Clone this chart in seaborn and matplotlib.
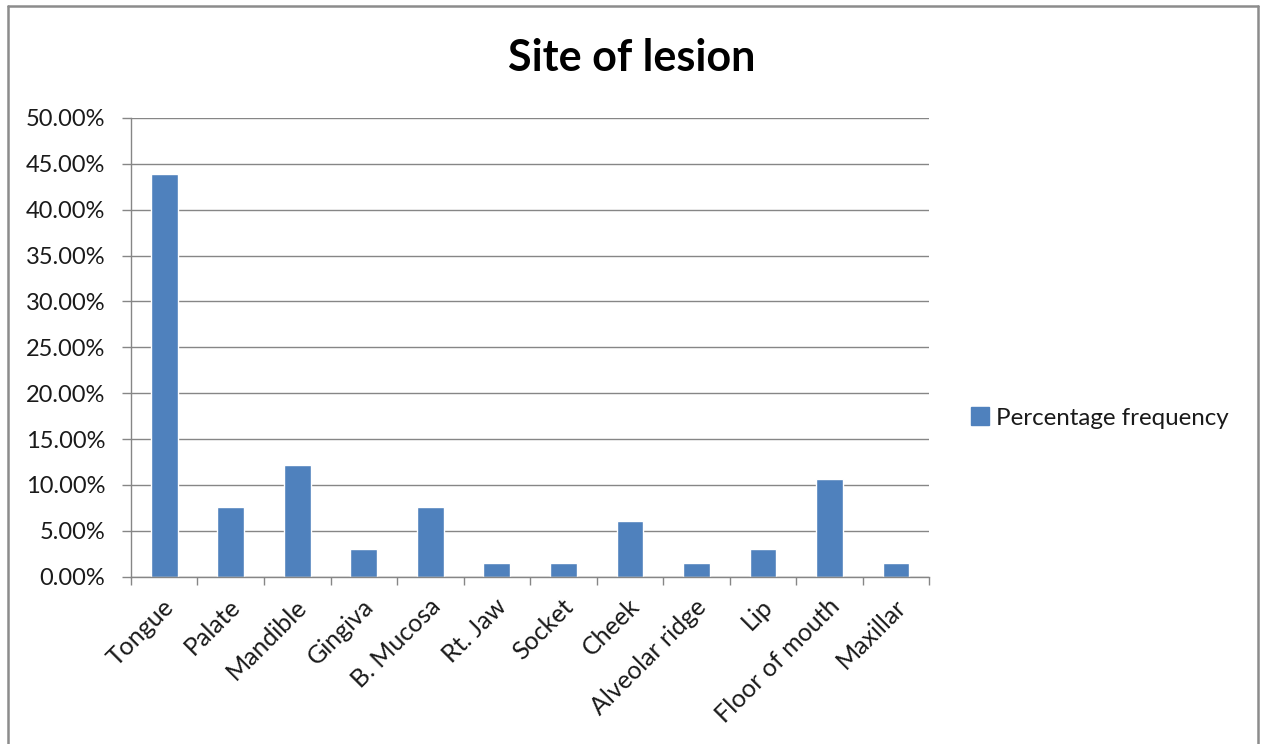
import matplotlib
matplotlib.use("Agg")
import matplotlib.pyplot as plt
from matplotlib.ticker import FixedLocator, MultipleLocator, PercentFormatter
from matplotlib.patches import Patch
from matplotlib.lines import Line2D
from matplotlib.transforms import ScaledTranslation
import seaborn as sns
import pandas as pd

# Lesion sites and their percentage frequency
sites = ["Tongue", "Palate", "Mandible", "Gingiva", "B. Mucosa", "Rt. Jaw",
         "Socket", "Cheek", "Alveolar ridge", "Lip", "Floor of mouth", "Maxillar"]
pct = [43.94, 7.58, 12.12, 3.03, 7.58, 1.52, 1.52, 6.06, 1.52, 3.03, 10.61, 1.52]
series_name = "Percentage frequency"
title = "Site of lesion"

BAR = "#4F81BD"
GRID = "#868686"
TEXT = "#1a1a1a"
FONT = ["Lato", "DejaVu Sans"]

sns.set_theme(style="white")
plt.rcParams["font.family"] = FONT

df = pd.DataFrame({"site": sites, "pct": pct})

fig = plt.figure(figsize=(12.64, 7.44), dpi=100)
ax = fig.add_axes([0.1036, 0.2249, 0.6315, 0.6165])

sns.barplot(data=df, x="site", y="pct", color=BAR, width=0.4,
            saturation=1, ax=ax, order=sites)

ax.set_ylim(0, 50)
ax.set_xlim(-0.5, len(sites) - 0.5)
ax.yaxis.set_major_locator(MultipleLocator(5))
ax.yaxis.set_major_formatter(PercentFormatter(decimals=2))
ax.set_xlabel("")
ax.set_ylabel("")

# horizontal gridlines
ax.grid(axis="y", color=GRID, linewidth=1.0)
ax.grid(axis="x", visible=False)
ax.set_axisbelow(True)

for side in ["top", "right"]:
    ax.spines[side].set_visible(False)
for side in ["left", "bottom"]:
    ax.spines[side].set_color(GRID)
    ax.spines[side].set_linewidth(1.0)

ax.tick_params(axis="y", which="major", direction="out", length=6.5,
               width=1.0, color=GRID, labelsize=17, pad=12, labelcolor=TEXT)
ax.tick_params(axis="y", left=True)

# category boundaries carry the x tick marks; labels sit at centres
ax.xaxis.set_minor_locator(FixedLocator([i - 0.5 for i in range(len(sites) + 1)]))
ax.tick_params(axis="x", which="minor", direction="out", length=5.5,
               width=1.0, color=GRID, bottom=True)
ax.tick_params(axis="x", which="major", length=0, pad=13,
               labelsize=18, labelcolor=TEXT)
shift = ScaledTranslation(-2 / 100, 0, fig.dpi_scale_trans)
for lbl in ax.get_xticklabels():
    lbl.set_rotation(45)
    lbl.set_ha("right")
    lbl.set_va("top")
    lbl.set_rotation_mode("anchor")
    lbl.set_transform(lbl.get_transform() + shift)

fig.text(0.5, 0.922, title, ha="center", va="center",
         fontsize=31, fontweight="bold", color="black")

handle = Patch(facecolor=BAR, edgecolor=BAR)
fig.legend([handle], [series_name], loc="center left",
           bbox_to_anchor=(0.751, 0.438), frameon=False, fontsize=17.4,
           handlelength=0.75, handleheight=0.75, handletextpad=0.3,
           labelcolor=TEXT)

# outer chart border
border = dict(color="#8c8c8c", linewidth=1.8, transform=fig.transFigure)
fig.add_artist(Line2D([0.0063, 0.0063], [0.0, 0.992], **border))
fig.add_artist(Line2D([0.0063, 0.9953], [0.992, 0.992], **border))
fig.add_artist(Line2D([0.9953, 0.9953], [0.0, 0.992], **border))

fig.savefig("out.png", dpi=100)
